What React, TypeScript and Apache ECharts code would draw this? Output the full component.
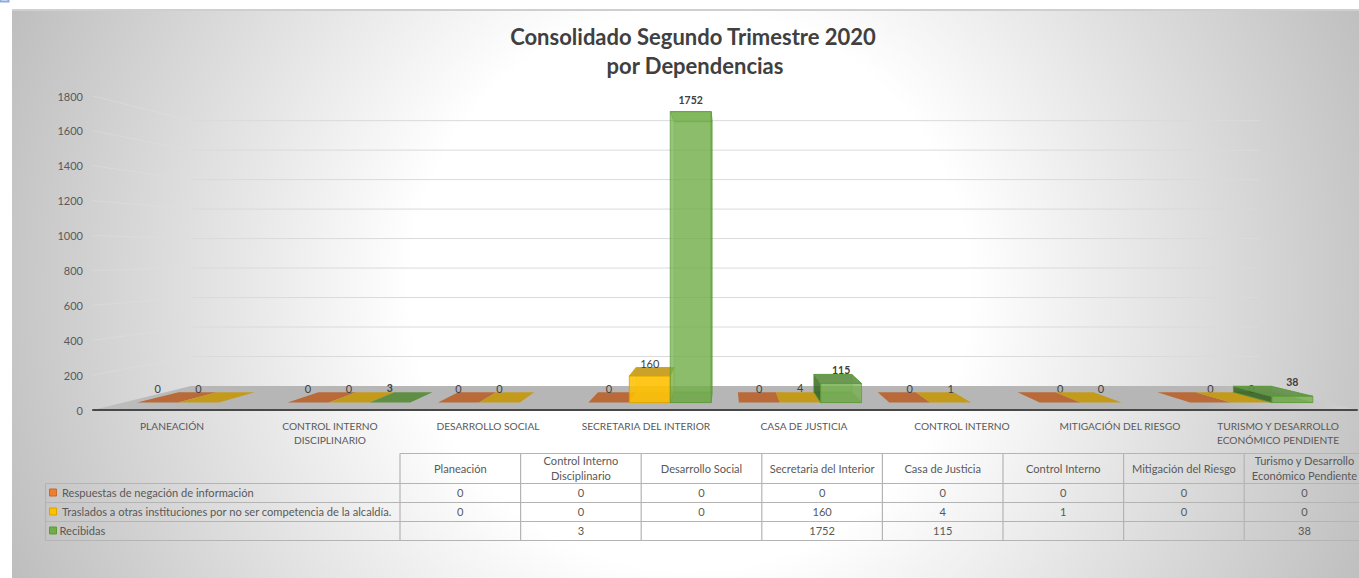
import React, { useEffect, useRef } from "react";
import * as echarts from "echarts";

const FONT = "Lato, 'Open Sans', sans-serif";
const titleLines = ["Consolidado Segundo Trimestre 2020", "por Dependencias"];
const axisCategories = [
  "PLANEACIÓN",
  "CONTROL INTERNO\nDISCIPLINARIO",
  "DESARROLLO SOCIAL",
  "SECRETARIA DEL INTERIOR",
  "CASA DE JUSTICIA",
  "CONTROL INTERNO",
  "MITIGACIÓN DEL RIESGO",
  "TURISMO Y DESARROLLO\nECONÓMICO PENDIENTE",
];
const tableCategories = [
  "Planeación",
  "Control Interno\nDisciplinario",
  "Desarrollo Social",
  "Secretaria del Interior",
  "Casa de Justicia",
  "Control Interno",
  "Mitigación del Riesgo",
  "Turismo y Desarrollo\nEconómico Pendiente",
];
const seriesNames = [
  "Respuestas de negación de información",
  "Traslados a otras instituciones por no ser competencia de la alcaldía.",
  "Recibidas",
];
const respuestas: (number | null)[] = [0, 0, 0, 0, 0, 0, 0, 0];
const traslados: (number | null)[] = [0, 0, 0, 160, 4, 1, 0, 0];
const recibidas: (number | null)[] = [null, 3, null, 1752, 115, null, null, 38];
const seriesValues = [respuestas, traslados, recibidas];
const seriesColors = ["#ED7D31", "#FFC000", "#70AD47"];
const seriesEdges = ["#C86A2A", "#D9A300", "#5B9A38"];
const flatColors = ["#BA6A38", "#C49A1A", "#5F8F45"];
const yTicks = [0, 200, 400, 600, 800, 1000, 1200, 1400, 1600, 1800];

// perspective of the 3D box, applied to the pixels of the front plane
const VX = 725;
const VY = 255;
const S_BOX_BACK = 0.845;
const S_BAR_FRONT = 0.952;
const S_BAR_BACK = 0.885;
const project = (x: number, y: number, s: number) => [VX + (x - VX) * s, VY + (y - VY) * s];

const CHART_LEFT = 12;
const CHART_TOP = 10;
const W = 1359;
const H = 578;

const boxRender = (params: any, api: any) => {
  const value = api.value(0);
  const y = api.coord([0, value])[1];
  const cs = params.coordSys;
  const l = cs.x;
  const r = cs.x + cs.width;
  const bl = project(l, y, S_BOX_BACK);
  const br = project(r, y, S_BOX_BACK);
  const children: any[] = [];
  if (value === 0) {
    children.push({
      type: "polygon",
      shape: { points: [[l, y], [r, y], br, bl] },
      style: {
        fill: new echarts.graphic.LinearGradient(0, 0, 1, 0, [
          { offset: 0, color: "#BEBEBE" },
          { offset: 0.1, color: "#B6B6B6" },
          { offset: 0.88, color: "#B6B6B6" },
          { offset: 1, color: "#D0D0D0" },
        ]),
      },
    });
  } else {
    children.push({
      type: "line",
      shape: { x1: bl[0], y1: bl[1], x2: br[0], y2: br[1] },
      style: { stroke: "#DADADA", lineWidth: 1 },
    });
    children.push({
      type: "line",
      shape: { x1: l, y1: y, x2: bl[0], y2: bl[1] },
      style: { stroke: "#DEDEDE", lineWidth: 1, opacity: 0.55 },
    });
  }
  return { type: "group", children };
};

const barRender = (seriesIndex: number) => (params: any, api: any) => {
  const catIndex = api.value(0);
  const val = api.value(1);
  const base = api.coord([catIndex, 0]);
  const top = api.coord([catIndex, val]);
  const band = api.size([1, 0])[0];
  const barW = band * 0.272;
  const x0 = base[0] + (seriesIndex - 1.5) * barW;
  const x1 = x0 + barW;
  const color = seriesColors[seriesIndex];
  const edge = seriesEdges[seriesIndex];
  const fb0 = project(x0, base[1], S_BAR_FRONT);
  const fb1 = project(x1, base[1], S_BAR_FRONT);
  const ft0 = project(x0, top[1], S_BAR_FRONT);
  const ft1 = project(x1, top[1], S_BAR_FRONT);
  const bb0 = project(x0, base[1], S_BAR_BACK);
  const bb1 = project(x1, base[1], S_BAR_BACK);
  const bt0 = project(x0, top[1], S_BAR_BACK);
  const bt1 = project(x1, top[1], S_BAR_BACK);
  const face = (points: number[][], fill: string, opacity: number, line = 1) => ({
    type: "polygon",
    shape: { points },
    style: { fill, opacity, stroke: edge, lineWidth: line },
  });
  const isFlat = Math.abs(top[1] - base[1]) < 1.2;
  const aboveEye = ft0[1] < bt0[1];
  const children: any[] = [];
  if (isFlat) {
    children.push({
      type: "polygon",
      shape: { points: [fb0, fb1, bb1, bb0] },
      style: { fill: flatColors[seriesIndex] },
    });
  } else {
    const side = fb0[0] < VX ? [fb1, bb1, bt1, ft1] : [fb0, bb0, bt0, ft0];
    children.push(face([bb0, bb1, bt1, bt0], color, 0.3));
    children.push(face([fb0, fb1, bb1, bb0], flatColors[seriesIndex], 0.5));
    if (seriesIndex === 2 && !aboveEye) children.push(face(side, "#2F5A1C", 0.75));
    if (seriesIndex === 2 && aboveEye) children.push(face(side, "#70AD47", 0.5));
    if (aboveEye) children.push(face([ft0, ft1, bt1, bt0], color, 0.55));
    else children.push(face([ft0, ft1, bt1, bt0], flatColors[seriesIndex], 0.9));
    children.push(face([fb0, fb1, ft1, ft0], color, seriesIndex === 2 ? 0.72 : 0.85));
  }
  const labelY = aboveEye ? ft0[1] - 12 : bt0[1] - 4;
  children.push({
    type: "text",
    silent: true,
    style: {
      x: (ft0[0] + ft1[0]) / 2,
      y: labelY,
      text: String(val),
      fill: "#404040",
      font: `${seriesIndex === 2 ? "bold 10.5px" : "11px"} ${FONT}`,
      align: "center",
      verticalAlign: "middle",
    },
  });
  return { type: "group", children };
};

// data table
const TABLE_LEFT = 45.5;
const TABLE_COL0 = 400;
const COL_W = 120.6;
const ROW_Y = [453.5, 483.5, 502.5, 521.5, 540.5];
const TABLE_STROKE = "#B4B4B4";
const TEXT_COLOR = "#595959";

const tableGraphics = () => {
  const g: any[] = [];
  const line = (x1: number, y1: number, x2: number, y2: number) =>
    g.push({ type: "line", shape: { x1, y1, x2, y2 }, style: { stroke: TABLE_STROKE, lineWidth: 1.2 }, silent: true });
  const text = (x: number, y: number, t: string, align = "center", lh = 15) =>
    g.push({
      type: "text",
      x,
      y,
      silent: true,
      style: { text: t, fill: TEXT_COLOR, font: `11.1px ${FONT}`, align, verticalAlign: "middle", lineHeight: lh },
    });
  const right = TABLE_COL0 + COL_W * 8;
  line(TABLE_COL0, ROW_Y[0], right, ROW_Y[0]);
  for (let i = 1; i < ROW_Y.length; i++) line(TABLE_LEFT, ROW_Y[i], right, ROW_Y[i]);
  line(TABLE_LEFT, ROW_Y[1], TABLE_LEFT, ROW_Y[4]);
  for (let c = 0; c <= 8; c++) {
    const x = TABLE_COL0 + COL_W * c;
    line(x, ROW_Y[0], x, ROW_Y[4]);
  }
  tableCategories.forEach((t, c) => text(TABLE_COL0 + COL_W * (c + 0.5), (ROW_Y[0] + ROW_Y[1]) / 2 - 0.5, t));
  seriesNames.forEach((name, r) => {
    const y = (ROW_Y[r + 1] + ROW_Y[r + 2]) / 2 - 0.5;
    g.push({
      type: "rect",
      silent: true,
      shape: { x: 49.5, y: y - 3.5, width: 7, height: 7 },
      style: { fill: seriesColors[r], stroke: seriesEdges[r], lineWidth: 1 },
    });
    text(r === 2 ? 59.5 : 62, y, name, "left");
    seriesValues[r].forEach((v, c) => {
      if (v !== null) text(TABLE_COL0 + COL_W * (c + 0.5), y, String(v));
    });
  });
  return g;
};

export default function App() {
  const ref = useRef<HTMLDivElement>(null);
  useEffect(() => {
    document.body.style.margin = "0";
    const chart = echarts.init(ref.current!, undefined, { renderer: "svg" });
    chart.setOption({
      animation: false,
      textStyle: { fontFamily: FONT },
      grid: { left: 93, right: 2, top: 96, bottom: 168, containLabel: false },
      xAxis: {
        type: "category",
        data: axisCategories,
        axisTick: { show: false },
        axisLine: { show: true, lineStyle: { color: "#484848", width: 2 } },
        axisLabel: { color: TEXT_COLOR, fontSize: 10.2, interval: 0, margin: 9, lineHeight: 14, fontFamily: FONT },
        z: 5,
      },
      yAxis: {
        type: "value",
        min: 0,
        max: 1800,
        interval: 200,
        axisLine: { show: false },
        axisTick: { show: false },
        splitLine: { show: false },
        axisLabel: { color: TEXT_COLOR, fontSize: 11, margin: 10, fontFamily: FONT, formatter: (v: number) => String(v) },
      },
      graphic: [
        {
          type: "rect",
          z: -10,
          silent: true,
          shape: { x: CHART_LEFT, y: CHART_TOP, width: W - CHART_LEFT, height: H - CHART_TOP },
          style: {
            fill: new echarts.graphic.RadialGradient(690, 290, 735, [
              { offset: 0, color: "#FFFFFF" },
              { offset: 0.38, color: "#FFFFFF" },
              { offset: 1, color: "#BEBEBE" },
            ], true),
          },
        },
        {
          type: "line",
          silent: true,
          z: -9,
          shape: { x1: CHART_LEFT, y1: CHART_TOP, x2: W, y2: CHART_TOP },
          style: { stroke: "#CFCFCF", lineWidth: 2 },
        },
        {
          type: "polyline",
          silent: true,
          shape: { points: [[0.5, 0], [0.5, 1.5], [8.5, 1.5], [8.5, 0]] },
          style: { stroke: "#8FAADC", lineWidth: 2, fill: "none" },
        },
        {
          type: "text",
          silent: true,
          x: 693,
          y: 36,
          style: { text: titleLines[0], fill: "#404040", font: `bold 22px ${FONT}`, align: "center", verticalAlign: "middle" },
        },
        {
          type: "text",
          silent: true,
          x: 695,
          y: 65,
          style: { text: titleLines[1], fill: "#404040", font: `bold 22px ${FONT}`, align: "center", verticalAlign: "middle" },
        },
        ...tableGraphics(),
      ],
      series: [
        {
          type: "custom",
          name: "box",
          coordinateSystem: "cartesian2d",
          encode: { y: 0 },
          data: yTicks.map((v) => [v]),
          renderItem: boxRender,
          silent: true,
          z: 1,
          clip: false,
        },
        ...seriesNames.map((name, s) => ({
          type: "custom",
          name,
          coordinateSystem: "cartesian2d",
          encode: { x: 0, y: 1 },
          data: seriesValues[s]
            .map((v, c) => (v === null ? null : [c, v]))
            .filter((d) => d !== null),
          renderItem: barRender(s),
          z: 2 + s,
          clip: false,
        })),
      ],
    });
    return () => chart.dispose();
  }, []);
  return <div ref={ref} style={{ width: W, height: H, background: "#FFFFFF" }} />;
}
